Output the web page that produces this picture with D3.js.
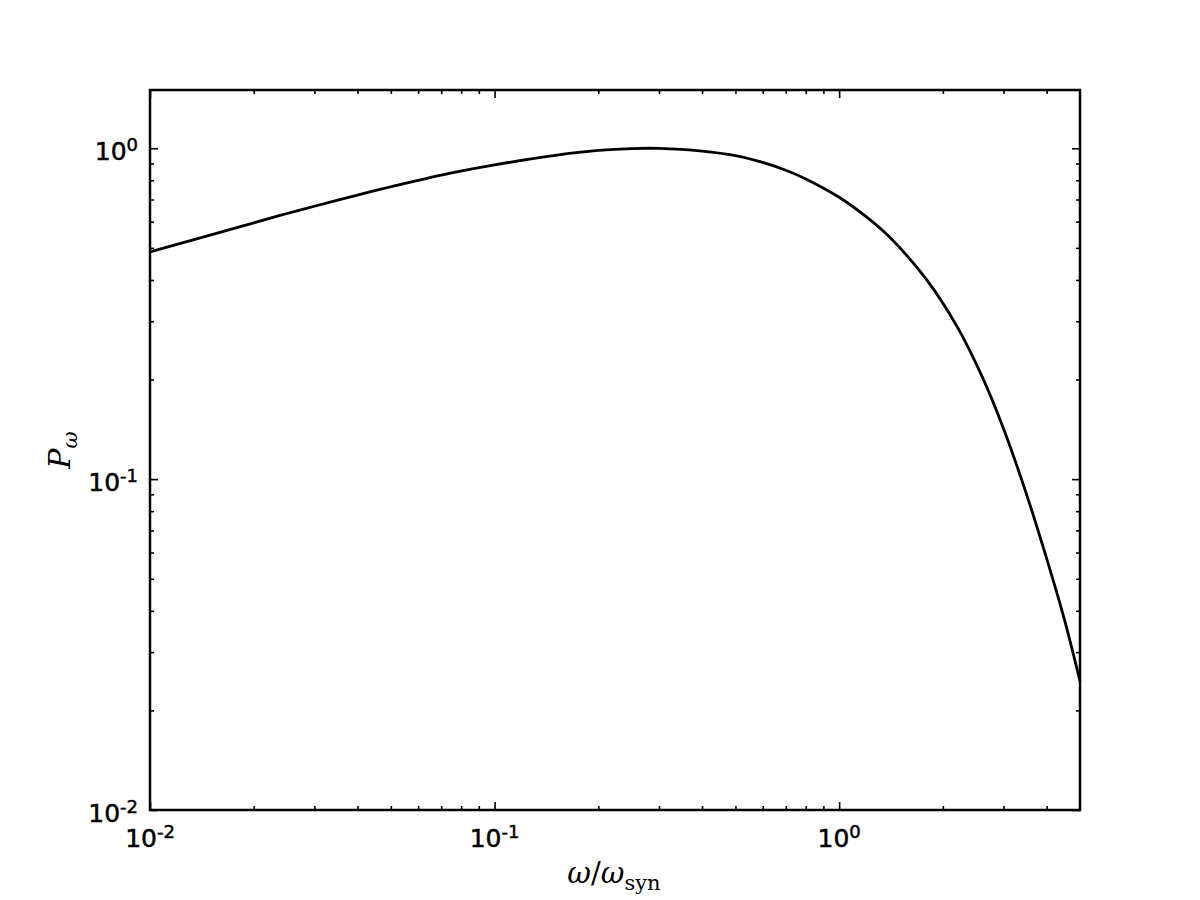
<!DOCTYPE html>
<html>
<head>
<meta charset="utf-8">
<script src="https://cdn.jsdelivr.net/npm/d3@7"></script>
<style>
  body { margin: 0; background: #fff; }
  svg { display: block; }
  .axis path { stroke: none; }
  .axis line { stroke: #000; stroke-width: 1.6; }
  .ticklabel { font-family: "DejaVu Sans", sans-serif; font-size: 25px; fill: #000; stroke: #000; stroke-width: 0.5; }
</style>
</head>
<body>
<svg width="1200" height="900"></svg>
<script>
// values
const omega = [0.01, 0.02, 0.025, 0.03, 0.04, 0.05, 0.07, 0.1, 0.15, 0.2, 0.25, 0.3, 0.4, 0.5, 0.6, 0.7, 0.8, 1.0, 1.2, 1.4, 1.8, 2.2, 2.6, 3.0, 3.5, 4.0, 4.5, 5.0];
const power = [0.486, 0.595, 0.635, 0.668, 0.722, 0.765, 0.83, 0.891, 0.952, 0.985, 0.998, 0.999, 0.981, 0.95, 0.906, 0.858, 0.808, 0.711, 0.62, 0.539, 0.399, 0.289, 0.204, 0.142, 0.0898, 0.0576, 0.0378, 0.0245];

const xMajor = [0.01, 0.1, 1];
const xMinor = [0.02, 0.03, 0.04, 0.05, 0.06, 0.07, 0.08, 0.09, 0.2, 0.3, 0.4, 0.5, 0.6, 0.7, 0.8, 0.9, 2, 3, 4];
const yMajor = [0.01, 0.1, 1];
const yMinor = [0.02, 0.03, 0.04, 0.05, 0.06, 0.07, 0.08, 0.09, 0.2, 0.3, 0.4, 0.5, 0.6, 0.7, 0.8, 0.9];
const tickExp = ['-2', '-1', '0'];

const svg = d3.select('svg');
const margin = { left: 150, right: 120, top: 90, bottom: 90 };
const width = 1200 - margin.left - margin.right;
const height = 900 - margin.top - margin.bottom;

const x = d3.scaleLog().domain([0.01, 5]).range([0, width]);
const y = d3.scaleLog().domain([0.01, 1.5]).range([height, 0]);

const g = svg.append('g').attr('transform', `translate(${margin.left},${margin.top})`);

// inward ticks on all four sides
function ticks(axisFn, scale, values, size, tr) {
  return g.append('g')
    .attr('class', 'axis')
    .attr('transform', tr)
    .call(axisFn(scale).tickValues(values).tickSize(-size).tickFormat(''));
}
ticks(d3.axisBottom, x, xMajor, 8, `translate(0,${height})`);
ticks(d3.axisBottom, x, xMinor, 4, `translate(0,${height})`);
ticks(d3.axisTop, x, xMajor, 8, 'translate(0,0)');
ticks(d3.axisTop, x, xMinor, 4, 'translate(0,0)');
ticks(d3.axisLeft, y, yMajor, 8, 'translate(0,0)');
ticks(d3.axisLeft, y, yMinor, 4, 'translate(0,0)');
ticks(d3.axisRight, y, yMajor, 8, `translate(${width},0)`);
ticks(d3.axisRight, y, yMinor, 4, `translate(${width},0)`);

// tick labels 10^n
function powLabel(sel, i) {
  sel.append('tspan').text('10');
  sel.append('tspan').attr('dy', '-0.5em').attr('font-size', '18px').text(tickExp[i]);
}
xMajor.forEach((v, i) => {
  const t = g.append('text').attr('class', 'ticklabel')
    .attr('x', x(v)).attr('y', height + 37).attr('text-anchor', 'middle');
  powLabel(t, i);
});
yMajor.forEach((v, i) => {
  const t = g.append('text').attr('class', 'ticklabel')
    .attr('x', -12).attr('y', y(v) + 12).attr('text-anchor', 'end');
  powLabel(t, i);
});

// curve
const line = d3.line()
  .x((d, i) => x(omega[i]))
  .y(d => y(d))
  .curve(d3.curveCatmullRom.alpha(0.5));

g.append('path')
  .datum(power)
  .attr('d', line)
  .attr('fill', 'none')
  .attr('stroke', '#000')
  .attr('stroke-width', 2.8);

// frame
g.append('rect')
  .attr('width', width).attr('height', height)
  .attr('fill', 'none').attr('stroke', '#000').attr('stroke-width', 2.5);

// axis labels
const xl = svg.append('text')
  .attr('x', 614).attr('y', 883)
  .attr('text-anchor', 'middle')
  .attr('font-family', '"DejaVu Serif", "Liberation Serif", serif')
  .attr('font-size', 29).attr('fill', '#000');
xl.append('tspan').attr('font-style', 'italic').text('ω');
xl.append('tspan').text('/');
xl.append('tspan').attr('font-style', 'italic').text('ω');
xl.append('tspan').attr('dy', 7).attr('font-size', 21).text('syn');

const yl = svg.append('text')
  .attr('transform', 'translate(70,450) rotate(-90)')
  .attr('text-anchor', 'middle')
  .attr('font-family', '"DejaVu Serif", "Liberation Serif", serif')
  .attr('font-size', 30).attr('fill', '#000');
yl.append('tspan').attr('font-style', 'italic').text('P');
yl.append('tspan').attr('dy', 7).attr('font-size', 21).attr('font-style', 'italic').text('ω');
</script>
</body>
</html>
